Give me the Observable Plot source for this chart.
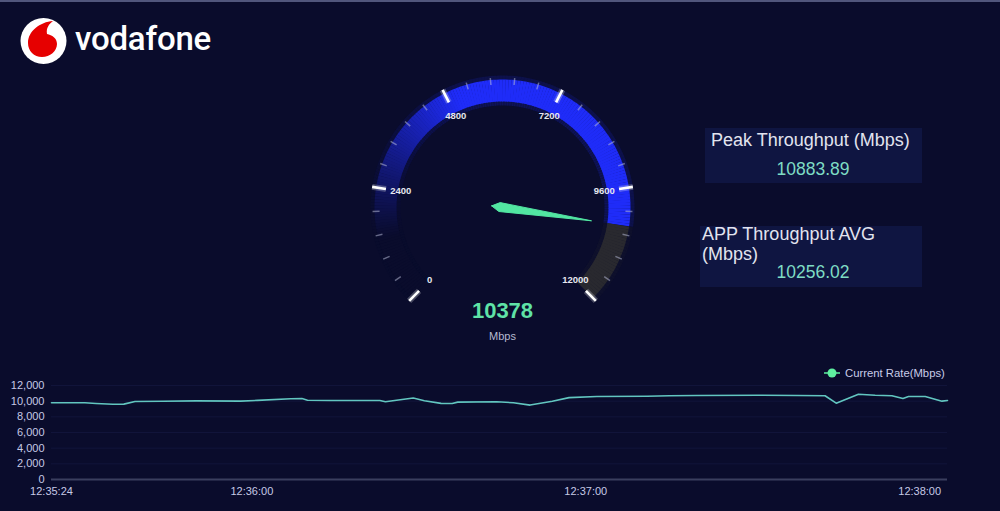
<!DOCTYPE html>
<html>
<head>
<meta charset="utf-8">
<script src="https://cdn.jsdelivr.net/npm/d3@7"></script>
<script src="https://cdn.jsdelivr.net/npm/@observablehq/plot@0.6"></script>
<style>
  html, body { margin: 0; padding: 0; background: #0a0c2c; }
  #stage { position: relative; width: 1000px; height: 511px; overflow: hidden; background: #0a0c2c;
           font-family: "Liberation Sans", Arial, sans-serif; }
  #topline { position: absolute; left: 0; top: 0; width: 1000px; height: 2px; background: #51567c; }
  #logo { position: absolute; left: 0; top: 0; }
  #gauge { position: absolute; left: 352px; top: 57px; }
  #trend { position: absolute; left: 0; top: 360px; }
  .box { position: absolute; background: #0f1541; }
  .lbl { position: absolute; color: #e2e4ef; font-size: 18px; line-height: 19.5px; white-space: nowrap; }
  .val { position: absolute; color: #7edcc4; font-size: 17.5px; line-height: 18px; text-align: center; width: 110px; }
  #legend { position: absolute; left: 822px; top: 366px; height: 14px; display: flex; align-items: center;
            color: #c8cbe8; font-size: 11.3px; white-space: nowrap; }
  #legend svg { margin-right: 3px; }
</style>
</head>
<body>
<div id="stage">
  <div id="topline"></div>
  <svg id="logo" width="230" height="80">
    <circle cx="43.5" cy="41" r="23" fill="#ffffff"/>
    <path d="M53,21 C40,22 28,31 28,43 C28,51 34,57 42,57 C50,57 57,51 57,44 C57,38 52,35 47,34 C46,28 49,24 53,21 Z" fill="#e60000"/>
    <text x="75" y="50" fill="#ffffff" font-family="Roboto, 'Liberation Sans', sans-serif" font-weight="500" font-size="33" letter-spacing="-0.2">vodafone</text>
  </svg>
  <div id="gauge"></div>

  <div class="box" style="left:705px;top:128px;width:217px;height:55px;"></div>
  <div class="lbl" style="left:711px;top:131px;">Peak Throughput (Mbps)</div>
  <div class="val" id="peakVal" style="left:758px;top:160px;"></div>

  <div class="box" style="left:700px;top:226px;width:222px;height:61px;"></div>
  <div class="lbl" style="left:702px;top:225px;">APP Throughput AVG<br>(Mbps)</div>
  <div class="val" id="avgVal" style="left:758px;top:263px;"></div>

  <div id="legend">
    <svg width="20" height="10"><line x1="2" y1="5" x2="18" y2="5" stroke="#5ef0a0" stroke-width="1.5"/><circle cx="10" cy="5" r="4.5" fill="#5ef0a0"/></svg>
    <span id="legendText"></span>
  </div>
  <div id="trend"></div>
</div>

<script>
// ---- Summary figures ----
const currentValue = 10378;          // gauge reading, Mbps
const peakThroughput = 10883.89;     // Mbps
const avgThroughput = 10256.02;      // Mbps
const unitLabel = "Mbps";
const seriesName = "Current Rate(Mbps)";

// ---- Gauge scale ----
const gaugeMax = 12000;
const gaugeMajorTicks = [0, 2400, 4800, 7200, 9600, 12000];
const gaugeMinorStep = 480;

// ---- Current rate over time ----
const sampleTimes = [
  "12:35:24", "12:35:30", "12:35:32", "12:35:35", "12:35:37", "12:35:39", "12:35:44", "12:35:50",
  "12:35:58", "12:36:01", "12:36:07", "12:36:09", "12:36:10", "12:36:14", "12:36:17", "12:36:23",
  "12:36:24", "12:36:29", "12:36:31", "12:36:34", "12:36:36", "12:36:37", "12:36:44", "12:36:47",
  "12:36:50", "12:36:54", "12:36:57", "12:37:02", "12:37:11", "12:37:15", "12:37:20", "12:37:31",
  "12:37:38", "12:37:43", "12:37:45", "12:37:49", "12:37:52", "12:37:55", "12:37:57", "12:37:58",
  "12:38:01", "12:38:04", "12:38:05"
];
const currentRate = [
  9790, 9790, 9700, 9610, 9620, 9960, 9990, 10040,
  10000, 10100, 10300, 10330, 10120, 10080, 10090, 10080,
  9920, 10400, 10050, 9720, 9700, 9880, 9920, 9800,
  9500, 10000, 10450, 10600, 10620, 10690, 10730, 10760,
  10720, 10690, 9740, 10883.89, 10760, 10700, 10340, 10600,
  10600, 10000, 10080
];
const timeDomain = ["12:35:24", "12:38:05"];
const timeTicks = ["12:35:24", "12:36:00", "12:37:00", "12:38:00"];
const rateTicks = [0, 2000, 4000, 6000, 8000, 10000, 12000];

// ---- Text fields ----
document.getElementById("peakVal").textContent = peakThroughput.toFixed(2);
document.getElementById("avgVal").textContent = avgThroughput.toFixed(2);
document.getElementById("legendText").textContent = seriesName;

// ---- Gauge ----
const bg = "#0a0c2c";
const startDeg = 225, sweepDeg = 270;
const angle = v => (startDeg - sweepDeg * v / gaugeMax) * Math.PI / 180;
const polar = (v, r) => [r * Math.cos(angle(v)), r * Math.sin(angle(v))];

const bandR = 117;
const blueRamp = d3.interpolateRgb(bg, "#1f2cf8");
const bandSegs = [];
const segStep = 60;
for (let v = 0; v < gaugeMax; v += segStep) {
  const a = v, b = Math.min(v + segStep + 8, gaugeMax);
  let color;
  if (v < currentValue) {
    const t = Math.max(0, Math.min(1, (v - 1300) / 3700));
    color = blueRamp(Math.pow(t, 1.1));
  } else {
    color = "#29292f";
  }
  const bEnd = v < currentValue ? Math.min(b, currentValue) : b;
  const [x1, y1] = polar(a, bandR), [x2, y2] = polar(bEnd, bandR);
  bandSegs.push({x1, y1, x2, y2, color});
}

const minorVals = d3.range(0, gaugeMax + 1, gaugeMinorStep).filter(v => !gaugeMajorTicks.includes(v));
const tickSeg = (v, r0, r1) => { const [x1, y1] = polar(v, r0), [x2, y2] = polar(v, r1); return {v, x1, y1, x2, y2}; };
const majorSegs = gaugeMajorTicks.map(v => tickSeg(v, 118, 132));
const minorSegs = minorVals.map(v => tickSeg(v, 123, 130));
const labelPts = gaugeMajorTicks.map(v => { const [x, y] = polar(v, 103); return {v, x, y}; });

// Needle: a slim kite pointing at the current value
const a0 = angle(currentValue), perp = a0 + Math.PI / 2;
const along = r => [r * Math.cos(a0), r * Math.sin(a0)];
const side = (r, w) => { const [x, y] = along(r); return [x + w * Math.cos(perp), y + w * Math.sin(perp)]; };
const needle = [along(-11), side(-3, 4.5), along(90), side(-3, -4.5), along(-11)].map(([x, y]) => ({x, y}));

const gauge = Plot.plot({
  width: 300, height: 300,
  marginTop: 0, marginRight: 0, marginBottom: 0, marginLeft: 0,
  x: {domain: [-150, 150], axis: null},
  y: {domain: [-150, 150], axis: null},
  color: {type: "identity"},
  style: {background: "transparent", fontFamily: "'Liberation Sans', Arial, sans-serif", overflow: "visible"},
  marks: [
    Plot.link(bandSegs, {x1: "x1", y1: "y1", x2: "x2", y2: "y2", stroke: "color", strokeWidth: 30, strokeOpacity: 0.15}),
    Plot.link(bandSegs, {x1: "x1", y1: "y1", x2: "x2", y2: "y2", stroke: "color", strokeWidth: 22}),
    Plot.link(minorSegs, {x1: "x1", y1: "y1", x2: "x2", y2: "y2", stroke: "#c4c8e4", strokeOpacity: 0.5, strokeWidth: 1.5}),
    Plot.link(majorSegs, {x1: "x1", y1: "y1", x2: "x2", y2: "y2", stroke: "#ffffff", strokeOpacity: 0.25, strokeWidth: 6}),
    Plot.link(majorSegs, {x1: "x1", y1: "y1", x2: "x2", y2: "y2", stroke: "#ffffff", strokeWidth: 2.6}),
    Plot.text(labelPts, {x: "x", y: "y", text: d => String(d.v), fill: "#e6e7f0", fontSize: 9.5, fontWeight: "bold"}),
    Plot.line(needle, {x: "x", y: "y", fill: "#52e6a2", stroke: "#52e6a2", strokeWidth: 1, curve: "linear"}),
    Plot.text([currentValue], {x: 0, y: -103, text: d => String(d), fill: "#5fe3a7", fontSize: 22, fontWeight: "bold"}),
    Plot.text([unitLabel], {x: 0, y: -129, text: d => d, fill: "#b6bad0", fontSize: 11})
  ]
});
document.getElementById("gauge").appendChild(gauge);

// ---- Trend line ----
const parseTime = d3.utcParse("%H:%M:%S");
const rows = sampleTimes.map((t, i) => ({time: parseTime(t), rate: currentRate[i]}));

const trend = Plot.plot({
  width: 1000, height: 151,
  marginTop: 25, marginBottom: 32, marginLeft: 51, marginRight: 53,
  style: {background: "transparent", color: "#c6c9e6", fontSize: "11px", fontFamily: "'Liberation Sans', Arial, sans-serif"},
  x: {type: "utc", domain: timeDomain.map(parseTime), ticks: timeTicks.map(parseTime),
      tickFormat: d3.utcFormat("%H:%M:%S"), tickSize: 0, tickPadding: 8, label: null},
  y: {domain: [0, 12000], ticks: rateTicks, tickFormat: d3.format(","), tickSize: 0, tickPadding: 7, label: null},
  marks: [
    Plot.gridY(rateTicks.slice(1), {stroke: "#161a44", strokeOpacity: 0.6}),
    Plot.ruleY([0], {stroke: "#3a3e5e", strokeWidth: 2}),
    Plot.line(rows, {x: "time", y: "rate", stroke: "#62c6c0", strokeWidth: 1.6})
  ]
});
document.getElementById("trend").appendChild(trend);
</script>
</body>
</html>
